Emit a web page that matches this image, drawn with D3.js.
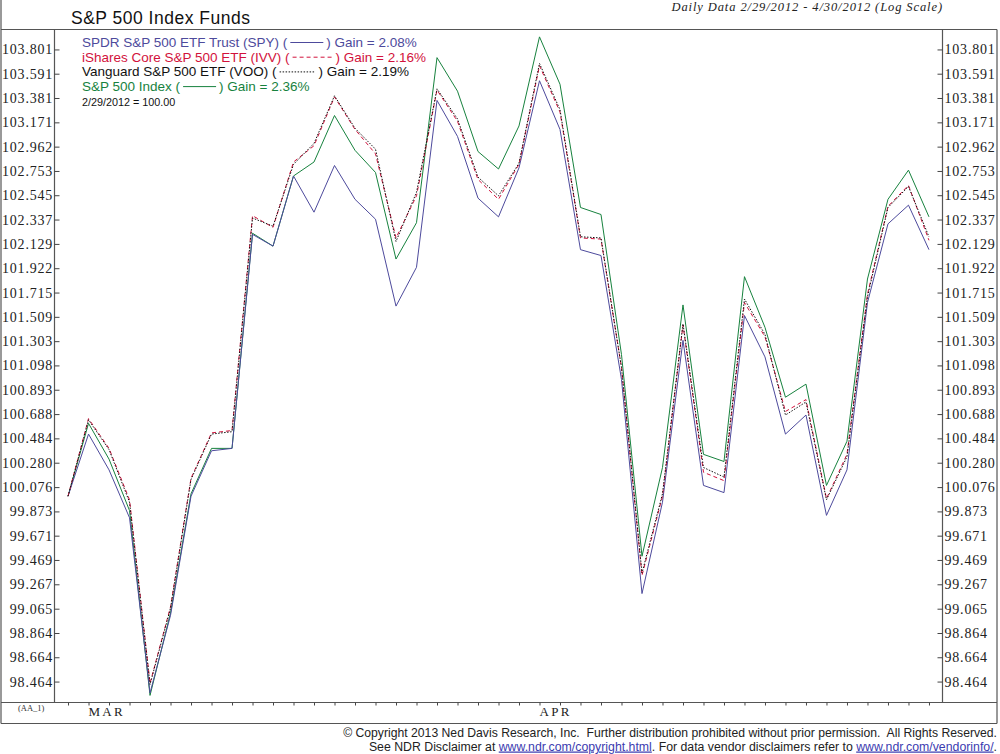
<!DOCTYPE html>
<html>
<head>
<meta charset="utf-8">
<script src="https://cdn.jsdelivr.net/npm/d3@7"></script>
<style>
  body { margin: 0; background: #fff; }
  svg { display: block; }
</style>
</head>
<body>
<div id="chart"></div>
<script>
//////////////////////////////////////////////
// Data //////////////////////////////////////
//////////////////////////////////////////////
// trading days 2/29/2012 - 4/30/2012
var dates = ["2012-02-29",
  "2012-03-01","2012-03-02","2012-03-05","2012-03-06","2012-03-07","2012-03-08","2012-03-09",
  "2012-03-12","2012-03-13","2012-03-14","2012-03-15","2012-03-16","2012-03-19","2012-03-20",
  "2012-03-21","2012-03-22","2012-03-23","2012-03-26","2012-03-27","2012-03-28","2012-03-29","2012-03-30",
  "2012-04-02","2012-04-03","2012-04-04","2012-04-05","2012-04-09","2012-04-10","2012-04-11",
  "2012-04-12","2012-04-13","2012-04-16","2012-04-17","2012-04-18","2012-04-19","2012-04-20",
  "2012-04-23","2012-04-24","2012-04-25","2012-04-26","2012-04-27","2012-04-30"];

// indexed values, 2/29/2012 = 100
var spy = [100.00,100.52,100.22,99.82,98.37,99.01,100.00,100.38,100.40,102.21,102.11,102.71,102.40,102.80,102.51,
  102.34,101.60,101.93,103.36,103.05,102.52,102.36,102.78,103.53,103.11,102.08,102.03,100.98,99.19,99.95,
  101.31,100.09,100.03,101.52,101.17,100.52,100.68,99.84,100.22,101.63,102.30,102.46,102.08];
var ivv = [100.00,100.65,100.40,99.97,98.45,99.08,100.15,100.53,100.55,102.37,102.27,102.83,102.97,103.39,103.11,
  102.90,102.18,102.54,103.45,103.18,102.68,102.51,102.81,103.66,103.26,102.18,102.17,101.08,99.34,100.00,
  101.44,100.20,100.13,101.63,101.34,100.71,100.81,99.98,100.35,101.70,102.45,102.63,102.16];
var voo = [100.00,100.64,100.39,99.95,98.44,99.07,100.14,100.52,100.54,102.35,102.28,102.81,102.99,103.40,103.12,
  102.94,102.15,102.57,103.46,103.20,102.70,102.54,102.82,103.68,103.28,102.19,102.18,101.08,99.36,100.02,
  101.45,100.24,100.16,101.66,101.36,100.68,100.79,99.97,100.33,101.68,102.44,102.62,102.19];
var spx = [100.00,100.61,100.31,99.88,98.35,99.03,100.02,100.40,100.40,102.22,102.11,102.71,102.83,103.23,102.93,
  102.74,102.00,102.31,103.73,103.44,102.92,102.77,103.14,103.91,103.50,102.44,102.38,101.19,99.50,100.24,
  101.61,100.35,100.29,101.85,101.42,100.83,100.94,100.09,100.46,101.83,102.51,102.76,102.36];

var seriesNames = ["SPDR S&P 500 ETF Trust (SPY)", "iShares Core S&P 500 ETF (IVV)", "Vanguard S&P 500 ETF (VOO)", "S&P 500 Index"];
var seriesGains = ["2.08%", "2.16%", "2.19%", "2.36%"];

// y axis tick labels (log spaced)
var yTicks = [103.801,103.591,103.381,103.171,102.962,102.753,102.545,102.337,102.129,101.922,101.715,101.509,
  101.303,101.098,100.893,100.688,100.484,100.280,100.076,99.873,99.671,99.469,99.267,99.065,98.864,98.664,98.464];

var monthNames = ["MAR", "APR"];

//////////////////////////////////////////////
// Chart Config //////////////////////////////
//////////////////////////////////////////////
var W = 1000, H = 754;
var plot = {left: 54.5, right: 942.5, top: 29.5, bottom: 702.5};

var serif = "'Liberation Serif', 'Times New Roman', serif";
var sans = "'Liberation Sans', Arial, Helvetica, sans-serif";

// series styles, same order as seriesNames
var styles = [
  {color: "#4d4a9c", dash: null, sample: 33},
  {color: "#d2123c", dash: "4,3", sample: 40},
  {color: "#111111", dash: "1.5,1.5", sample: 36},
  {color: "#17823e", dash: null, sample: 33}
];
var seriesData = [spy, ivv, voo, spx];

var parseDay = d3.timeParse("%Y-%m-%d");
var days = dates.map(parseDay);

var xScale = d3.scalePoint()
  .domain(dates)
  .range([plot.left, plot.right])
  .padding(0.66);

var yScale = d3.scaleLog()
  .domain([98.292, 103.974])
  .range([plot.bottom, plot.top]);

var svg = d3.select("#chart").append("svg")
  .attr("width", W)
  .attr("height", H);

svg.append("rect").attr("width", W).attr("height", H).attr("fill", "#fff");

//////////////////////////////////////////////
// Frame /////////////////////////////////////
//////////////////////////////////////////////
var frame = svg.append("g").attr("stroke", "#555").attr("stroke-width", 1.2).attr("fill", "none");
frame.append("line").attr("x1", 1).attr("x2", 1).attr("y1", 0).attr("y2", 723.5);
frame.append("line").attr("x1", 997).attr("x2", 997).attr("y1", plot.top).attr("y2", 723.5);
frame.append("line").attr("x1", 1).attr("x2", 997).attr("y1", plot.top).attr("y2", plot.top);
frame.append("line").attr("x1", 1).attr("x2", 997).attr("y1", plot.bottom).attr("y2", plot.bottom);
frame.append("line").attr("x1", 1).attr("x2", 997).attr("y1", 723.5).attr("y2", 723.5);
frame.append("line").attr("x1", plot.left).attr("x2", plot.left).attr("y1", plot.top).attr("y2", plot.bottom);
frame.append("line").attr("x1", plot.right).attr("x2", plot.right).attr("y1", plot.top).attr("y2", plot.bottom);

//////////////////////////////////////////////
// Axes //////////////////////////////////////
//////////////////////////////////////////////
var fmt = d3.format(".3f");

// left and right axes, ticks point inside
var yAxisL = d3.axisLeft(yScale).tickValues(yTicks).tickFormat(fmt).tickSizeInner(-5).tickSizeOuter(0).tickPadding(2);
var yAxisR = d3.axisRight(yScale).tickValues(yTicks).tickFormat(fmt).tickSizeInner(-5).tickSizeOuter(0).tickPadding(2);

var gL = svg.append("g").attr("transform", "translate(" + plot.left + ",0)").call(yAxisL);
var gR = svg.append("g").attr("transform", "translate(" + plot.right + ",0)").call(yAxisR);

[gL, gR].forEach(function(g) {
  g.select(".domain").remove();
  g.selectAll(".tick line").attr("stroke", "#444");
  g.selectAll(".tick text")
    .attr("fill", "#222")
    .style("font-family", serif)
    .style("font-size", "14px")
    .style("letter-spacing", "0.8px");
});
gL.selectAll(".tick text").attr("dx", "0.6px");

// bottom ticks at every trading day
var xAxis = d3.axisBottom(xScale).tickSizeInner(3).tickSizeOuter(0).tickFormat("");
var gX = svg.append("g").attr("transform", "translate(0," + plot.bottom + ")").call(xAxis);
gX.select(".domain").remove();
gX.selectAll(".tick line").attr("stroke", "#444");

// month labels at first trading day of each month
monthNames.forEach(function(m, k) {
  var idx = days.findIndex(function(d) { return d.getMonth() === k + 2; });
  svg.append("text")
    .attr("x", xScale(dates[idx]))
    .attr("y", 716)
    .attr("fill", "#222")
    .style("font-family", serif)
    .style("font-size", "13px")
    .style("letter-spacing", "2.3px")
    .text(m);
});

svg.append("text")
  .attr("x", 18).attr("y", 711)
  .attr("fill", "#333")
  .style("font-family", serif)
  .style("font-size", "8.5px")
  .text("(AA_1)");

//////////////////////////////////////////////
// Lines /////////////////////////////////////
//////////////////////////////////////////////
var line = d3.line()
  .x(function(d, i) { return xScale(dates[i]); })
  .y(function(d) { return yScale(d); });

// green and blue first, dashed ones on top
[3, 0, 1, 2].forEach(function(s) {
  svg.append("path")
    .datum(seriesData[s])
    .attr("fill", "none")
    .attr("stroke", styles[s].color)
    .attr("stroke-width", 1)
    .attr("stroke-dasharray", styles[s].dash)
    .attr("d", line);
});

//////////////////////////////////////////////
// Titles and legend /////////////////////////
//////////////////////////////////////////////
svg.append("text")
  .attr("x", 71).attr("y", 24)
  .attr("fill", "#111")
  .style("font-family", sans)
  .style("font-size", "17.5px")
  .style("letter-spacing", "0.5px")
  .text("S&P 500 Index Funds");

svg.append("text")
  .attr("x", 943).attr("y", 11)
  .attr("text-anchor", "end")
  .attr("fill", "#222")
  .style("font-family", serif)
  .style("font-style", "italic")
  .style("font-size", "12.5px")
  .style("letter-spacing", "0.9px")
  .text("Daily Data 2/29/2012 - 4/30/2012 (Log Scale)");

seriesNames.forEach(function(name, i) {
  var y = 47 + i * 14.7;
  var st = styles[i];
  var t1 = svg.append("text")
    .attr("x", 82).attr("y", y)
    .attr("fill", st.color)
    .style("font-family", sans)
    .style("font-size", "13.5px")
    .text(name + " (");
  var w = t1.node().getComputedTextLength();
  svg.append("line")
    .attr("x1", 82 + w + 3).attr("x2", 82 + w + 3 + st.sample)
    .attr("y1", y - 4.5).attr("y2", y - 4.5)
    .attr("stroke", st.color)
    .attr("stroke-width", 1)
    .attr("stroke-dasharray", st.dash);
  svg.append("text")
    .attr("x", 82 + w + st.sample + 6).attr("y", y)
    .attr("fill", st.color)
    .style("font-family", sans)
    .style("font-size", "13.5px")
    .text(") Gain = " + seriesGains[i]);
});

svg.append("text")
  .attr("x", 82).attr("y", 106)
  .attr("fill", "#111")
  .style("font-family", sans)
  .style("font-size", "10.8px")
  .text("2/29/2012 = " + d3.format(".2f")(spx[0]));

//////////////////////////////////////////////
// Footer ////////////////////////////////////
//////////////////////////////////////////////
svg.append("text")
  .attr("x", 997).attr("y", 737)
  .attr("text-anchor", "end")
  .attr("fill", "#222")
  .style("font-family", sans)
  .style("font-size", "12.2px")
  .style("white-space", "pre")
  .text("\u00a9 Copyright 2013 Ned Davis Research, Inc.  Further distribution prohibited without prior permission.  All Rights Reserved.");

var foot2 = svg.append("text")
  .attr("x", 997).attr("y", 750.5)
  .attr("text-anchor", "end")
  .attr("fill", "#222")
  .style("font-family", sans)
  .style("font-size", "12.3px");
foot2.append("tspan").text("See NDR Disclaimer at ");
foot2.append("tspan").attr("fill", "#3b3bb0").style("text-decoration", "underline").text("www.ndr.com/copyright.html");
foot2.append("tspan").text(". For data vendor disclaimers refer to ");
foot2.append("tspan").attr("fill", "#3b3bb0").style("text-decoration", "underline").text("www.ndr.com/vendorinfo/");
foot2.append("tspan").text(".");
</script>
</body>
</html>
